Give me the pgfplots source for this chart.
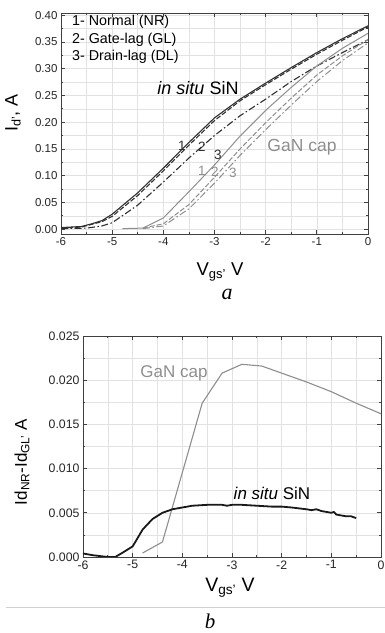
\documentclass[border=0pt]{standalone}
\usepackage{fontspec}
\setmainfont{Liberation Sans}
\newfontfamily\serifit{Liberation Serif}
\usepackage{pgfplots}
\pgfplotsset{compat=1.18}
\definecolor{dk}{HTML}{303030}
\definecolor{gr}{HTML}{8E8E8E}
\definecolor{grd}{HTML}{E2E2E2}
\pgfplotsset{mystyle/.style={
  scale only axis,
  axis line style={draw=black!75, line width=0.8pt},
  tick align=inside, tick pos=both,
  minor tick num=1,
  grid=both,
  major grid style={grd, line width=0.5pt},
  minor grid style={grd, line width=0.5pt},
  major tick length=4pt, minor tick length=2.2pt,
  tick style={black!75, line width=0.7pt},
  ticklabel style={font=\fontsize{11.5}{13}\selectfont, text=black!85},
  /pgf/number format/assume math mode=true,
  xmin=-6, xmax=0, xtick={-6,-5,-4,-3,-2,-1,0},
  scaled y ticks=false,
  clip=true,
}}
\pgfplotstableread{
x y
-6.0 0.003
-5.8 0.004
-5.6 0.005
-5.4 0.010
-5.2 0.016
-5.0 0.028
-4.5 0.068
-4.0 0.114
-3.5 0.162
-3.0 0.208
-2.5 0.243
-2.0 0.273
-1.5 0.302
-1.0 0.330
-0.5 0.356
0.0 0.380
}\siNR
\pgfplotstableread{
x y
-6.0 0.002
-5.6 0.004
-5.4 0.009
-5.2 0.014
-5.0 0.024
-4.5 0.063
-4.0 0.109
-3.5 0.157
-3.0 0.203
-2.5 0.240
-2.0 0.270
-1.5 0.299
-1.0 0.327
-0.5 0.353
0.0 0.378
}\siGL
\pgfplotstableread{
x y
-6.0 0.001
-5.5 0.002
-5.2 0.006
-5.0 0.012
-4.5 0.045
-4.0 0.088
-3.5 0.133
-3.0 0.175
-2.5 0.212
-2.0 0.243
-1.5 0.276
-1.0 0.305
-0.5 0.330
0.0 0.354
}\siDL
\pgfplotstableread{
x y
-4.8 0.001
-4.4 0.002
-4.0 0.021
-3.5 0.070
-3.0 0.120
-2.5 0.174
-2.0 0.222
-1.5 0.265
-1.0 0.305
-0.5 0.338
0.0 0.366
}\gaNR
\pgfplotstableread{
x y
-4.4 0.002
-4.0 0.010
-3.5 0.046
-3.0 0.097
-2.5 0.150
-2.0 0.199
-1.5 0.245
-1.0 0.288
-0.5 0.324
0.0 0.354
}\gaGL
\pgfplotstableread{
x y
-4.4 0.001
-4.0 0.006
-3.5 0.038
-3.0 0.086
-2.5 0.138
-2.0 0.186
-1.5 0.232
-1.0 0.276
-0.5 0.315
0.0 0.348
}\gaDL
\pgfplotstableread{
x y
-6.0 0.0004
-5.8 0.0002
-5.5 0.0000
-5.35 0.0000
-5.2 0.0005
-5.0 0.0012
-4.8 0.0031
-4.6 0.0043
-4.4 0.0050
-4.2 0.0054
-4.0 0.0056
-3.8 0.0058
-3.5 0.0059
-3.2 0.0059
-3.1 0.0058
-3.0 0.0059
-2.8 0.0059
-2.5 0.0058
-2.2 0.0057
-2.0 0.0057
-1.8 0.0056
-1.5 0.0054
-1.4 0.0053
-1.3 0.0054
-1.2 0.0052
-1.1 0.0051
-1.0 0.0050
-0.95 0.0051
-0.9 0.0048
-0.8 0.0047
-0.7 0.0046
-0.6 0.0046
-0.5 0.0044
}\difSi
\pgfplotstableread{
x y
-4.8 0.00045
-4.4 0.0017
-3.6 0.0174
-3.2 0.0208
-2.8 0.0218
-2.4 0.0216
-2.0 0.0208
-1.5 0.0198
-1.0 0.0187
-0.5 0.0174
0.0 0.0162
}\difGa
\begin{document}
\begin{tikzpicture}
\useasboundingbox (0pt,0pt) rectangle (385pt,633pt);
% top panel
\begin{axis}[mystyle,
  at={(61pt,399pt)}, anchor=south west,
  width=307pt, height=221pt,
  ymin=-0.009, ymax=0.404,
  ytick={0,0.05,0.10,0.15,0.20,0.25,0.30,0.35,0.40},
  yticklabel style={/pgf/number format/.cd, fixed, fixed zerofill, precision=2},
]
\addplot[dk, line width=1.1pt] table {\siNR};
\addplot[dk, line width=1.1pt, dash pattern=on 5pt off 2pt] table {\siGL};
\addplot[dk, line width=1.1pt, dash pattern=on 7pt off 2.5pt on 1.5pt off 2.5pt] table {\siDL};
\addplot[gr, line width=1.0pt] table {\gaNR};
\addplot[gr, line width=1.0pt, dash pattern=on 5pt off 2pt] table {\gaGL};
\addplot[gr, line width=1.0pt, dash pattern=on 7pt off 2.5pt on 1.5pt off 2.5pt] table {\gaDL};
\end{axis}
% bottom panel
\begin{axis}[mystyle,
  at={(83pt,76pt)}, anchor=south west,
  width=298pt, height=221pt,
  ymin=0, ymax=0.025,
  ytick={0,0.005,0.010,0.015,0.020,0.025},
  ticklabel style={font=\fontsize{12.3}{14}\selectfont},
  yticklabel style={/pgf/number format/.cd, fixed, fixed zerofill, precision=3},
]
\addplot[gr, line width=1.1pt] table {\difGa};
\addplot[black!90, line width=1.8pt] table {\difSi};
\end{axis}
% texts top
\begin{scope}[every node/.style={inner sep=0pt}]
\node[anchor=west, font=\fontsize{14.3}{16}\selectfont] at (72pt,611pt) {1- Normal (NR)};
\node[anchor=west, font=\fontsize{14.3}{16}\selectfont] at (72pt,593.5pt) {2- Gate-lag (GL)};
\node[anchor=west, font=\fontsize{14.3}{16}\selectfont] at (72pt,576pt) {3- Drain-lag (DL)};
\node[font=\fontsize{18}{20}\selectfont] at (198pt,545pt) {\textit{in situ} SiN};
\node[font=\fontsize{17.5}{19}\selectfont, text=gr] at (302pt,486pt) {GaN cap};
\node[font=\fontsize{13.5}{15}\selectfont, text=dk] at (182pt,487pt) {1};
\node[font=\fontsize{13.5}{15}\selectfont, text=dk] at (202pt,486pt) {2};
\node[font=\fontsize{13.5}{15}\selectfont, text=dk] at (218pt,478pt) {3};
\node[font=\fontsize{13.5}{15}\selectfont, text=gr] at (202pt,462pt) {1};
\node[font=\fontsize{13.5}{15}\selectfont, text=gr] at (215pt,461pt) {2};
\node[font=\fontsize{13.5}{15}\selectfont, text=gr] at (233pt,460pt) {3};
\node[rotate=90, font=\fontsize{18}{20}\selectfont] at (13pt,520pt) {I\textsubscript{d’}, A};
\node[font=\fontsize{18.5}{20}\selectfont] at (220pt,361pt) {V\textsubscript{gs’} V};
\node[anchor=base, font=\fontsize{22}{24}\serifit\itshape] at (227pt,333pt) {a};
% texts bottom
\node[font=\fontsize{17}{19}\selectfont, text=gr] at (174pt,260pt) {GaN cap};
\node[font=\fontsize{17}{19}\selectfont] at (272pt,140pt) {\textit{in situ} SiN};
\node[rotate=90, font=\fontsize{17}{19}\selectfont] at (22pt,171pt) {Id\textsubscript{NR}-Id\textsubscript{GL’} A};
\node[font=\fontsize{19.5}{21}\selectfont] at (230pt,45pt) {V\textsubscript{gs’} V};
\node[anchor=base, font=\fontsize{21}{23}\serifit\itshape] at (210pt,4.5pt) {b};
\end{scope}
\draw[black!18, line width=0.8pt] (6pt,26pt) -- (385pt,26pt);
\end{tikzpicture}
\end{document}
